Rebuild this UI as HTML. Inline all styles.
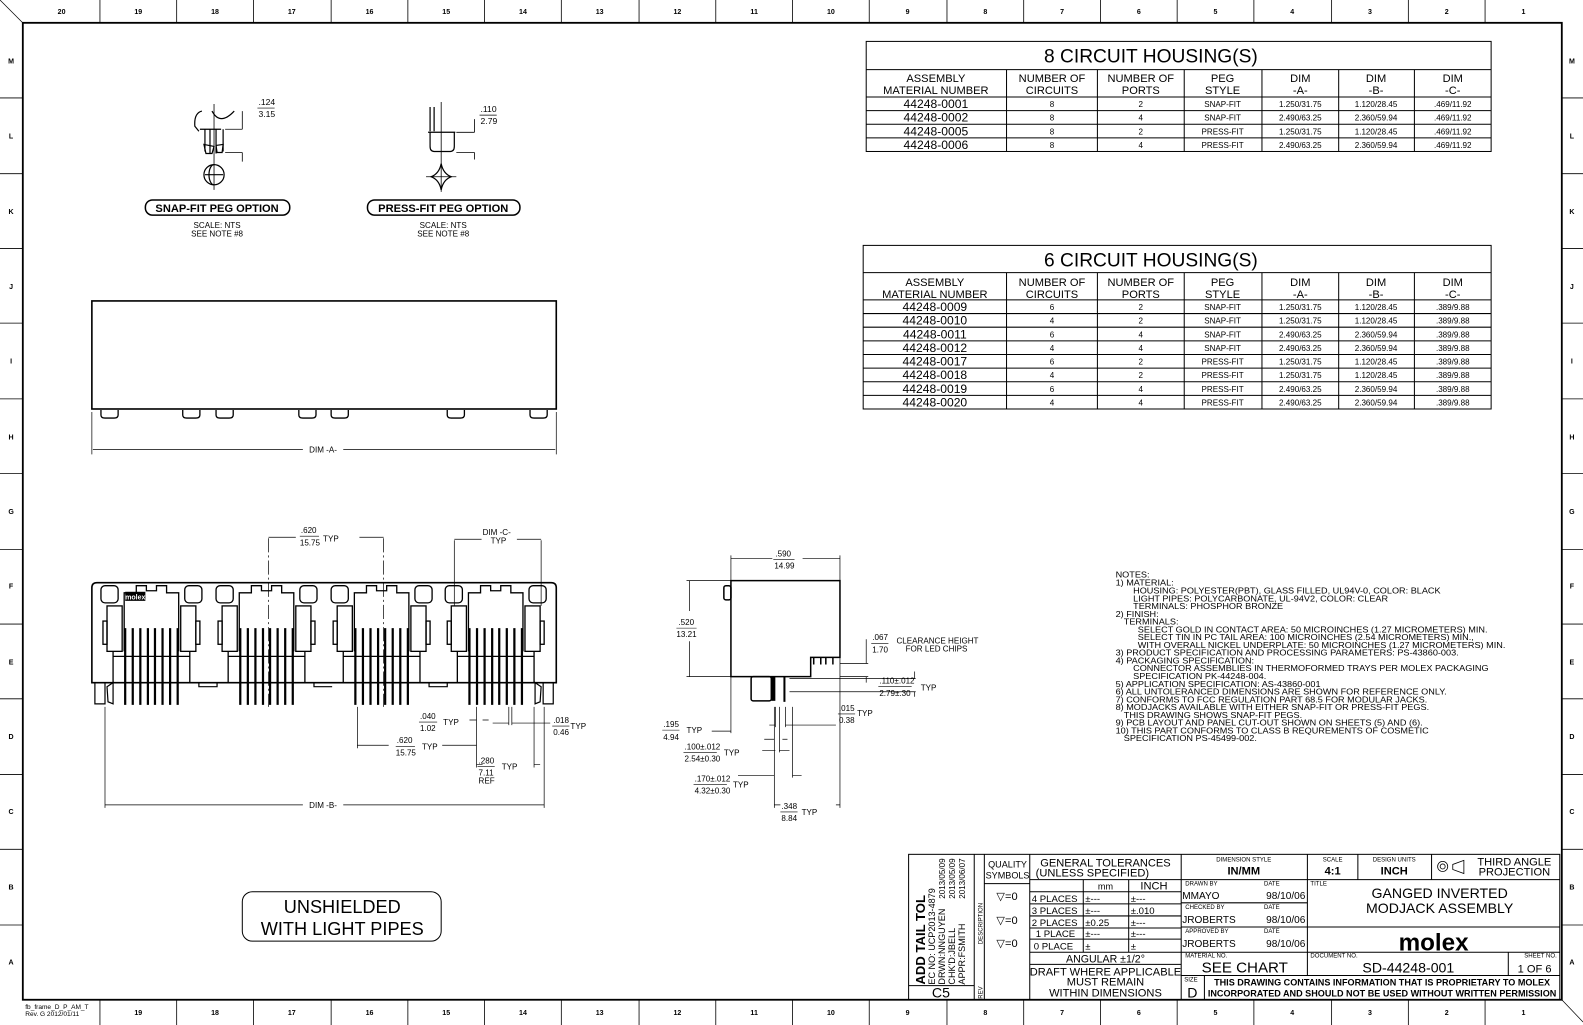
<!DOCTYPE html>
<html><head><meta charset="utf-8"><style>
html,body{margin:0;padding:0;background:#fff;}
svg{display:block}
text{font-family:"Liberation Sans",sans-serif;fill:#000}
</style></head><body>
<svg width="1583" height="1025" viewBox="0 0 1568 1015" preserveAspectRatio="none" xmlns="http://www.w3.org/2000/svg">
<defs>
<g id="jack" fill="none" stroke="#000" stroke-width="1.3">
  <rect x="-50" y="3" width="17" height="17" rx="4"/>
  <rect x="33" y="3" width="17" height="17" rx="4"/>
  <path d="M-27,68 V10 H-15 V3 H-5 V8 H5 V3 H15 V10 H27 V68"/>
  <rect x="-44" y="23" width="15" height="45"/>
  <rect x="29" y="23" width="15" height="45"/>
  <rect x="-48" y="38" width="4" height="23"/>
  <rect x="44" y="38" width="4" height="23"/>
  <path d="M-38,68 V99 M38,68 V99 M-38,73 H38"/>
  <g stroke-width="2.2">
    <path d="M-26,45 V121 M-18.5,45 V121 M-11,45 V121 M-3.5,45 V121 M3.5,45 V121 M11,45 V121 M18.5,45 V121 M26,45 V121"/>
  </g>
</g>
<g id="peg"><path d="M0,0 V5 Q0,8 4,8 H13 Q17,8 17,5 V0" fill="none" stroke="#000" stroke-width="1.3"/></g>
</defs>

<!-- Frame -->
<g stroke="#000" fill="none">
  <rect x="22.6" y="22.6" width="1524.4" height="967.4" stroke-width="1.8"/>
  <line x1="0" y1="0" x2="22.6" y2="22.6" stroke-width="0.7"/>
  <line x1="1547" y1="990" x2="1568" y2="1012" stroke-width="0.7"/>
</g>
<g stroke="#000" stroke-width="0.8">
  <line x1="99" y1="0" x2="99" y2="22"/><line x1="175" y1="0" x2="175" y2="22"/><line x1="251" y1="0" x2="251" y2="22"/><line x1="328" y1="0" x2="328" y2="22"/><line x1="404" y1="0" x2="404" y2="22"/><line x1="480" y1="0" x2="480" y2="22"/><line x1="556" y1="0" x2="556" y2="22"/><line x1="633" y1="0" x2="633" y2="22"/><line x1="709" y1="0" x2="709" y2="22"/><line x1="785" y1="0" x2="785" y2="22"/><line x1="861" y1="0" x2="861" y2="22"/><line x1="938" y1="0" x2="938" y2="22"/><line x1="1014" y1="0" x2="1014" y2="22"/><line x1="1090" y1="0" x2="1090" y2="22"/><line x1="1166" y1="0" x2="1166" y2="22"/><line x1="1242" y1="0" x2="1242" y2="22"/><line x1="1319" y1="0" x2="1319" y2="22"/><line x1="1395" y1="0" x2="1395" y2="22"/><line x1="1471" y1="0" x2="1471" y2="22"/>
  <line x1="99" y1="990" x2="99" y2="1015"/><line x1="175" y1="990" x2="175" y2="1015"/><line x1="251" y1="990" x2="251" y2="1015"/><line x1="328" y1="990" x2="328" y2="1015"/><line x1="404" y1="990" x2="404" y2="1015"/><line x1="480" y1="990" x2="480" y2="1015"/><line x1="556" y1="990" x2="556" y2="1015"/><line x1="633" y1="990" x2="633" y2="1015"/><line x1="709" y1="990" x2="709" y2="1015"/><line x1="785" y1="990" x2="785" y2="1015"/><line x1="861" y1="990" x2="861" y2="1015"/><line x1="938" y1="990" x2="938" y2="1015"/><line x1="1014" y1="990" x2="1014" y2="1015"/><line x1="1090" y1="990" x2="1090" y2="1015"/><line x1="1166" y1="990" x2="1166" y2="1015"/><line x1="1242" y1="990" x2="1242" y2="1015"/><line x1="1319" y1="990" x2="1319" y2="1015"/><line x1="1395" y1="990" x2="1395" y2="1015"/><line x1="1471" y1="990" x2="1471" y2="1015"/>
  <line x1="0" y1="97" x2="22" y2="97"/><line x1="0" y1="172" x2="22" y2="172"/><line x1="0" y1="246" x2="22" y2="246"/><line x1="0" y1="320" x2="22" y2="320"/><line x1="0" y1="395" x2="22" y2="395"/><line x1="0" y1="469" x2="22" y2="469"/><line x1="0" y1="544" x2="22" y2="544"/><line x1="0" y1="618" x2="22" y2="618"/><line x1="0" y1="692" x2="22" y2="692"/><line x1="0" y1="767" x2="22" y2="767"/><line x1="0" y1="841" x2="22" y2="841"/><line x1="0" y1="916" x2="22" y2="916"/>
  <line x1="1547" y1="97" x2="1568" y2="97"/><line x1="1547" y1="172" x2="1568" y2="172"/><line x1="1547" y1="246" x2="1568" y2="246"/><line x1="1547" y1="320" x2="1568" y2="320"/><line x1="1547" y1="395" x2="1568" y2="395"/><line x1="1547" y1="469" x2="1568" y2="469"/><line x1="1547" y1="544" x2="1568" y2="544"/><line x1="1547" y1="618" x2="1568" y2="618"/><line x1="1547" y1="692" x2="1568" y2="692"/><line x1="1547" y1="767" x2="1568" y2="767"/><line x1="1547" y1="841" x2="1568" y2="841"/><line x1="1547" y1="916" x2="1568" y2="916"/>
</g>
<g font-size="7" font-weight="bold" text-anchor="middle">
  <text x="61" y="14">20</text><text x="137" y="14">19</text><text x="213" y="14">18</text><text x="289" y="14">17</text><text x="366" y="14">16</text><text x="442" y="14">15</text><text x="518" y="14">14</text><text x="594" y="14">13</text><text x="671" y="14">12</text><text x="747" y="14">11</text><text x="823" y="14">10</text><text x="899" y="14">9</text><text x="976" y="14">8</text><text x="1052" y="14">7</text><text x="1128" y="14">6</text><text x="1204" y="14">5</text><text x="1280" y="14">4</text><text x="1357" y="14">3</text><text x="1433" y="14">2</text><text x="1509" y="14">1</text>
  <text x="137" y="1005">19</text><text x="213" y="1005">18</text><text x="289" y="1005">17</text><text x="366" y="1005">16</text><text x="442" y="1005">15</text><text x="518" y="1005">14</text><text x="594" y="1005">13</text><text x="671" y="1005">12</text><text x="747" y="1005">11</text><text x="823" y="1005">10</text><text x="899" y="1005">9</text><text x="976" y="1005">8</text><text x="1052" y="1005">7</text><text x="1128" y="1005">6</text><text x="1204" y="1005">5</text><text x="1280" y="1005">4</text><text x="1357" y="1005">3</text><text x="1433" y="1005">2</text><text x="1509" y="1005">1</text>
  <text x="11" y="63">M</text><text x="11" y="137">L</text><text x="11" y="212">K</text><text x="11" y="286">J</text><text x="11" y="360">I</text><text x="11" y="435">H</text><text x="11" y="509">G</text><text x="11" y="583">F</text><text x="11" y="658">E</text><text x="11" y="732">D</text><text x="11" y="806">C</text><text x="11" y="881">B</text><text x="11" y="955">A</text>
  <text x="1557" y="63">M</text><text x="1557" y="137">L</text><text x="1557" y="212">K</text><text x="1557" y="286">J</text><text x="1557" y="360">I</text><text x="1557" y="435">H</text><text x="1557" y="509">G</text><text x="1557" y="583">F</text><text x="1557" y="658">E</text><text x="1557" y="732">D</text><text x="1557" y="806">C</text><text x="1557" y="881">B</text><text x="1557" y="955">A</text>
</g>
<text x="25" y="999" font-size="6.5">fb_frame_D_P_AM_T</text>
<text x="25" y="1006" font-size="6.5">Rev. G 2012/01/11</text>

<!-- 8 circuit table -->
<g stroke="#000" stroke-width="1" fill="none">
  <rect x="858" y="41" width="619" height="109"/>
  <path d="M858,69 H1477 M858,96 H1477 M858,109.5 H1477 M858,123 H1477 M858,136.5 H1477"/>
  <path d="M997,69 V150 M1087,69 V150 M1173,69 V150 M1250,69 V150 M1326,69 V150 M1401,69 V150"/>
</g>
<g text-anchor="middle" font-size="10">
  <text x="1140" y="62" font-size="19" font-weight="300">8 CIRCUIT HOUSING(S)</text>
  <text x="927" y="81" font-size="11">ASSEMBLY</text><text x="927" y="93" font-size="11">MATERIAL NUMBER</text>
  <text x="1042" y="81" font-size="11">NUMBER OF</text><text x="1042" y="93" font-size="11">CIRCUITS</text>
  <text x="1130" y="81" font-size="11">NUMBER OF</text><text x="1130" y="93" font-size="11">PORTS</text>
  <text x="1211" y="81" font-size="11">PEG</text><text x="1211" y="93" font-size="11">STYLE</text>
  <text x="1288" y="81" font-size="11">DIM</text><text x="1288" y="93" font-size="11">-A-</text>
  <text x="1363" y="81" font-size="11">DIM</text><text x="1363" y="93" font-size="11">-B-</text>
  <text x="1439" y="81" font-size="11">DIM</text><text x="1439" y="93" font-size="11">-C-</text>
</g>
<g text-anchor="middle" font-size="8">
  <text x="927" y="107" font-size="12">44248-0001</text><text x="1042" y="106">8</text><text x="1130" y="106">2</text><text x="1211" y="106">SNAP-FIT</text><text x="1288" y="106">1.250/31.75</text><text x="1363" y="106">1.120/28.45</text><text x="1439" y="106">.469/11.92</text>
  <text x="927" y="120.5" font-size="12">44248-0002</text><text x="1042" y="119.5">8</text><text x="1130" y="119.5">4</text><text x="1211" y="119.5">SNAP-FIT</text><text x="1288" y="119.5">2.490/63.25</text><text x="1363" y="119.5">2.360/59.94</text><text x="1439" y="119.5">.469/11.92</text>
  <text x="927" y="134" font-size="12">44248-0005</text><text x="1042" y="133">8</text><text x="1130" y="133">2</text><text x="1211" y="133">PRESS-FIT</text><text x="1288" y="133">1.250/31.75</text><text x="1363" y="133">1.120/28.45</text><text x="1439" y="133">.469/11.92</text>
  <text x="927" y="147.5" font-size="12">44248-0006</text><text x="1042" y="146.5">8</text><text x="1130" y="146.5">4</text><text x="1211" y="146.5">PRESS-FIT</text><text x="1288" y="146.5">2.490/63.25</text><text x="1363" y="146.5">2.360/59.94</text><text x="1439" y="146.5">.469/11.92</text>
</g>

<!-- 6 circuit table -->
<g stroke="#000" stroke-width="1" fill="none">
  <rect x="855" y="243" width="622" height="162"/>
  <path d="M855,270 H1477 M855,297 H1477 M855,310.5 H1477 M855,324 H1477 M855,337.5 H1477 M855,351 H1477 M855,364.5 H1477 M855,378 H1477 M855,391.5 H1477"/>
  <path d="M997,270 V405 M1087,270 V405 M1173,270 V405 M1250,270 V405 M1326,270 V405 M1401,270 V405"/>
</g>
<g text-anchor="middle" font-size="11">
  <text x="1140" y="264" font-size="19">6 CIRCUIT HOUSING(S)</text>
  <text x="926" y="283">ASSEMBLY</text><text x="926" y="295">MATERIAL NUMBER</text>
  <text x="1042" y="283">NUMBER OF</text><text x="1042" y="295">CIRCUITS</text>
  <text x="1130" y="283">NUMBER OF</text><text x="1130" y="295">PORTS</text>
  <text x="1211" y="283">PEG</text><text x="1211" y="295">STYLE</text>
  <text x="1288" y="283">DIM</text><text x="1288" y="295">-A-</text>
  <text x="1363" y="283">DIM</text><text x="1363" y="295">-B-</text>
  <text x="1439" y="283">DIM</text><text x="1439" y="295">-C-</text>
</g>
<g text-anchor="middle" font-size="8">
  <text x="926" y="308" font-size="12">44248-0009</text><text x="1042" y="307">6</text><text x="1130" y="307">2</text><text x="1211" y="307">SNAP-FIT</text><text x="1288" y="307">1.250/31.75</text><text x="1363" y="307">1.120/28.45</text><text x="1439" y="307">.389/9.88</text>
  <text x="926" y="321.5" font-size="12">44248-0010</text><text x="1042" y="320.5">4</text><text x="1130" y="320.5">2</text><text x="1211" y="320.5">SNAP-FIT</text><text x="1288" y="320.5">1.250/31.75</text><text x="1363" y="320.5">1.120/28.45</text><text x="1439" y="320.5">.389/9.88</text>
  <text x="926" y="335" font-size="12">44248-0011</text><text x="1042" y="334">6</text><text x="1130" y="334">4</text><text x="1211" y="334">SNAP-FIT</text><text x="1288" y="334">2.490/63.25</text><text x="1363" y="334">2.360/59.94</text><text x="1439" y="334">.389/9.88</text>
  <text x="926" y="348.5" font-size="12">44248-0012</text><text x="1042" y="347.5">4</text><text x="1130" y="347.5">4</text><text x="1211" y="347.5">SNAP-FIT</text><text x="1288" y="347.5">2.490/63.25</text><text x="1363" y="347.5">2.360/59.94</text><text x="1439" y="347.5">.389/9.88</text>
  <text x="926" y="362" font-size="12">44248-0017</text><text x="1042" y="361">6</text><text x="1130" y="361">2</text><text x="1211" y="361">PRESS-FIT</text><text x="1288" y="361">1.250/31.75</text><text x="1363" y="361">1.120/28.45</text><text x="1439" y="361">.389/9.88</text>
  <text x="926" y="375.5" font-size="12">44248-0018</text><text x="1042" y="374.5">4</text><text x="1130" y="374.5">2</text><text x="1211" y="374.5">PRESS-FIT</text><text x="1288" y="374.5">1.250/31.75</text><text x="1363" y="374.5">1.120/28.45</text><text x="1439" y="374.5">.389/9.88</text>
  <text x="926" y="389" font-size="12">44248-0019</text><text x="1042" y="388">6</text><text x="1130" y="388">4</text><text x="1211" y="388">PRESS-FIT</text><text x="1288" y="388">2.490/63.25</text><text x="1363" y="388">2.360/59.94</text><text x="1439" y="388">.389/9.88</text>
  <text x="926" y="402.5" font-size="12">44248-0020</text><text x="1042" y="401.5">4</text><text x="1130" y="401.5">4</text><text x="1211" y="401.5">PRESS-FIT</text><text x="1288" y="401.5">2.490/63.25</text><text x="1363" y="401.5">2.360/59.94</text><text x="1439" y="401.5">.389/9.88</text>
</g>

<!-- Peg options -->
<g fill="none" stroke="#000" stroke-width="1.2">
  <path d="M200,110 Q192,112 193,125 L197,130"/>
  <path d="M210,110 Q218,125 232,110"/>
  <line x1="212" y1="103" x2="212" y2="188" stroke-width="0.8"/>
  <path d="M198,128 H219 M203,128 V150 M208,128 V152 M214,128 V152 M221,128 V150"/>
  <path d="M202,143 L212,145 L210,152 L204,152 Z M214,144 L221,143 L220,151 L215,151 Z"/>
  <path d="M223,128 H240 M223,151 H240 M240,110 V128 M240,151 V160" stroke-width="0.8"/>
  <circle cx="212" cy="173" r="10"/><path d="M203,173 H221 M212,163 A5,10 0 0,0 212,183"/>
  <rect x="144" y="198" width="143" height="15" rx="7" stroke-width="1.5"/>
  <path d="M437,101 V190" stroke-width="0.8"/>
  <path d="M426,106 V130 M430,106 V130 M424,131 H451 M426,131 V145 Q426,150 430,150 H446 Q450,150 450,145 V131"/>
  <path d="M452,131 H470 M452,151 H470 M470,118 V131 M470,151 V158" stroke-width="0.8"/>
  <path d="M422,175 H452" stroke-width="0.8"/>
  <path d="M437,162 Q439,172 447,175 Q439,178 437,188 Q435,178 427,175 Q435,172 437,162 Z"/>
  <rect x="364" y="198" width="151" height="15" rx="7" stroke-width="1.5"/>
</g>
<g font-size="8.5">
  <text x="256" y="104">.124</text><line x1="255" y1="107" x2="272" y2="107" stroke="#000" stroke-width="0.7"/><text x="256" y="116">3.15</text>
  <text x="476" y="111">.110</text><line x1="475" y1="114" x2="492" y2="114" stroke="#000" stroke-width="0.7"/><text x="476" y="123">2.79</text>
</g>
<text x="215" y="210" font-size="11" font-weight="bold" text-anchor="middle">SNAP-FIT PEG OPTION</text>
<text x="439" y="210" font-size="11" font-weight="bold" text-anchor="middle">PRESS-FIT PEG OPTION</text>
<g font-size="8" text-anchor="middle">
  <text x="215" y="226">SCALE: NTS</text><text x="215" y="234">SEE NOTE #8</text>
  <text x="439" y="226">SCALE: NTS</text><text x="439" y="234">SEE NOTE #8</text>
</g>

<!-- Top view -->
<rect x="91" y="298" width="460" height="107" fill="none" stroke="#000" stroke-width="1.6"/>
<use href="#peg" x="100" y="406"/><use href="#peg" x="181" y="406"/><use href="#peg" x="214" y="406"/><use href="#peg" x="296" y="406"/><use href="#peg" x="328" y="406"/><use href="#peg" x="443" y="406"/><use href="#peg" x="525" y="406"/>
<g stroke="#000" stroke-width="0.7"><path d="M91,408 V450 M551,408 V450 M92,445 H300 M340,445 H550"/></g>
<text x="320" y="448" font-size="8" text-anchor="middle">DIM -A-</text>

<!-- Bottom front view -->
<path d="M91,676 V582 Q91,577 96,577 H546 Q551,577 551,582 V676 Z" fill="none" stroke="#000" stroke-width="1.6"/>
<use href="#jack" x="150" y="577"/><use href="#jack" x="264" y="577"/><use href="#jack" x="378" y="577"/><use href="#jack" x="491" y="577"/>
<rect x="124" y="586" width="20" height="9" fill="#000"/>
<text x="134" y="593.5" font-size="7" font-weight="bold" text-anchor="middle" style="fill:#fff">molex</text>
<g fill="none" stroke="#000" stroke-width="1.2">
  <path d="M94,676 V697 H104 V676 M106,680 L112,676 V697 L107,695 Z"/>
  <path d="M548,676 V697 H538 V676 M536,680 L530,676 V697 L535,695 Z"/>
  <path d="M197,676 V680 H215 V676 M311,676 V680 H329 M425,676 V680 H443 V676"/>
</g>
<g stroke="#000" stroke-width="0.7" fill="none">
  <path d="M266,533 V700 M380,533 V700" stroke-dasharray="14,3,2,3"/>
  <path d="M266,532 H293 M356,532 H380"/>
  <path d="M450,535 V600 M536,535 V600 M450,534 H477 M512,534 H536"/>
  <path d="M104,700 V800 M539,700 V800 M104,797 H300 M340,797 H539"/>
  <path d="M354,700 V741 M472,700 V760 M354,738 H385 M438,738 H472"/>
  <path d="M472,713 H465 M478,713 H484"/>
  <path d="M529,700 V760 M478,757 H472 M529,757 H535"/>
  <path d="M504,700 V718 M507,700 V718 M488,716 H504 M507,716 H545"/>
</g>
<g font-size="8">
  <text x="298" y="528">.620</text><line x1="297" y1="531" x2="316" y2="531" stroke="#000" stroke-width="0.6"/><text x="297" y="540">15.75</text><text x="320" y="536">TYP</text>
  <text x="478" y="530" text-anchor="start">DIM -C-</text><text x="486" y="538">TYP</text>
  <text x="416" y="712">.040</text><line x1="415" y1="715" x2="433" y2="715" stroke="#000" stroke-width="0.6"/><text x="416" y="724">1.02</text><text x="439" y="718">TYP</text>
  <text x="548" y="716">.018</text><line x1="547" y1="719" x2="564" y2="719" stroke="#000" stroke-width="0.6"/><text x="548" y="728">0.46</text><text x="565" y="722">TYP</text>
  <text x="393" y="736">.620</text><line x1="392" y1="739" x2="411" y2="739" stroke="#000" stroke-width="0.6"/><text x="392" y="748">15.75</text><text x="418" y="742">TYP</text>
  <text x="474" y="756">.280</text><line x1="473" y1="759" x2="490" y2="759" stroke="#000" stroke-width="0.6"/><text x="474" y="768">7.11</text><text x="474" y="776">REF</text><text x="497" y="762">TYP</text>
  <text x="320" y="800" text-anchor="middle">DIM -B-</text>
</g>

<!-- Side view -->
<g fill="none" stroke="#000" stroke-width="1.5">
  <path d="M724,575 H832 V651 H803 V670 H724 Z"/>
  <rect x="717" y="580" width="7" height="14" rx="2"/>
  <rect x="744" y="670" width="20" height="24" rx="2"/>
  <path d="M806,651 V658 M813,651 V658 M818,651 V658 M825,651 V658"/>
</g>
<rect x="764" y="670" width="4" height="24" fill="#000"/>
<rect x="776" y="670" width="2" height="25" fill="#000"/>
<g stroke="#000" stroke-width="0.7" fill="none">
  <path d="M724,575 V550 M832,575 V550 M724,553 H765 M795,553 H832"/>
  <path d="M724,575 H680 M724,670 H680 M683,575 V605 M683,635 V670"/>
  <path d="M832,657 H860 M832,670 H860 M858,633 V657 M858,670 V676"/>
  <path d="M782,672 H907 M782,685 H907 M906,665 V672 M906,685 V690" />
  <path d="M768,700 V720 M778,700 V720 M762,718 H768 M778,718 H828"/>
  <path d="M724,670 V726 M705,724 H724"/>
  <path d="M767,700 V800 M832,600 V800 M767,797 H773 M828,797 H832"/>
  <path d="M772,700 V745 M755,743 H768 M772,743 H782"/>
  <path d="M785,700 V770 M731,768 H767 M785,768 H794"/>
  <path d="M767,732 H757 M775,732 H780"/>
</g>
<g font-size="8">
  <text x="768" y="551">.590</text><line x1="766" y1="554" x2="787" y2="554" stroke="#000" stroke-width="0.6"/><text x="767" y="563">14.99</text>
  <text x="672" y="619">.520</text><line x1="670" y1="622" x2="690" y2="622" stroke="#000" stroke-width="0.6"/><text x="670" y="631">13.21</text>
  <text x="864" y="634">.067</text><line x1="863" y1="637" x2="880" y2="637" stroke="#000" stroke-width="0.6"/><text x="864" y="646">1.70</text>
  <text x="888" y="637">CLEARANCE HEIGHT</text><text x="897" y="645">FOR LED CHIPS</text>
  <text x="871" y="677">.110±.012</text><line x1="870" y1="680" x2="903" y2="680" stroke="#000" stroke-width="0.6"/><text x="871" y="689">2.79±.30</text><text x="912" y="684">TYP</text>
  <text x="831" y="704">.015</text><line x1="830" y1="707" x2="847" y2="707" stroke="#000" stroke-width="0.6"/><text x="831" y="716">0.38</text><text x="849" y="709">TYP</text>
  <text x="657" y="720">.195</text><line x1="656" y1="723" x2="673" y2="723" stroke="#000" stroke-width="0.6"/><text x="657" y="733">4.94</text><text x="680" y="726">TYP</text>
  <text x="678" y="742">.100±.012</text><line x1="677" y1="745" x2="710" y2="745" stroke="#000" stroke-width="0.6"/><text x="678" y="754">2.54±0.30</text><text x="717" y="748">TYP</text>
  <text x="688" y="774">.170±.012</text><line x1="687" y1="777" x2="720" y2="777" stroke="#000" stroke-width="0.6"/><text x="688" y="786">4.32±0.30</text><text x="726" y="780">TYP</text>
  <text x="774" y="801">.348</text><line x1="773" y1="804" x2="790" y2="804" stroke="#000" stroke-width="0.6"/><text x="774" y="813">8.84</text><text x="794" y="807">TYP</text>
</g>

<!-- Notes -->
<g font-size="7.8" transform="translate(1105,0) scale(1.16,1)">
  <text x="0" y="572">NOTES:</text>
  <text x="0" y="580">1) MATERIAL:</text>
  <text x="15" y="587.7">HOUSING: POLYESTER(PBT), GLASS FILLED, UL94V-0, COLOR: BLACK</text>
  <text x="15" y="595.4">LIGHT PIPES: POLYCARBONATE, UL-94V2, COLOR: CLEAR</text>
  <text x="15" y="603.1">TERMINALS: PHOSPHOR BRONZE</text>
  <text x="0" y="610.8">2) FINISH:</text>
  <text x="7" y="618.5">TERMINALS:</text>
  <text x="19" y="626.2">SELECT GOLD IN CONTACT AREA: 50 MICROINCHES (1.27 MICROMETERS) MIN.</text>
  <text x="19" y="633.9">SELECT TIN IN PC TAIL AREA: 100 MICROINCHES (2.54 MICROMETERS) MIN.,</text>
  <text x="19" y="641.6">WITH OVERALL NICKEL UNDERPLATE: 50 MICROINCHES (1.27 MICROMETERS) MIN.</text>
  <text x="0" y="649.3">3) PRODUCT SPECIFICATION AND PROCESSING PARAMETERS: PS-43860-003.</text>
  <text x="0" y="657">4) PACKAGING SPECIFICATION:</text>
  <text x="15" y="664.7">CONNECTOR ASSEMBLIES IN THERMOFORMED TRAYS PER MOLEX PACKAGING</text>
  <text x="15" y="672.4">SPECIFICATION PK-44248-004.</text>
  <text x="0" y="680.1">5) APPLICATION SPECIFICATION: AS-43860-001</text>
  <text x="0" y="687.8">6) ALL UNTOLERANCED DIMENSIONS ARE SHOWN FOR REFERENCE ONLY.</text>
  <text x="0" y="695.5">7) CONFORMS TO FCC REGULATION PART 68.5 FOR MODULAR JACKS.</text>
  <text x="0" y="703.2">8) MODJACKS AVAILABLE WITH EITHER SNAP-FIT OR PRESS-FIT PEGS.</text>
  <text x="7" y="710.9">THIS DRAWING SHOWS SNAP-FIT PEGS.</text>
  <text x="0" y="718.6">9) PCB LAYOUT AND PANEL CUT-OUT SHOWN ON SHEETS (5) AND (6).</text>
  <text x="0" y="726.3">10) THIS PART CONFORMS TO CLASS B REQUREMENTS OF COSMETIC</text>
  <text x="7" y="734">SPECIFICATION PS-45499-002.</text>
</g>

<!-- Unshielded -->
<rect x="240" y="883" width="197" height="49" rx="10" fill="none" stroke="#000" stroke-width="1"/>
<text x="339" y="904" font-size="18" text-anchor="middle">UNSHIELDED</text>
<text x="339" y="926" font-size="18" text-anchor="middle">WITH LIGHT PIPES</text>

<!-- Title block -->
<g stroke="#000" fill="none" stroke-width="1">
  <rect x="900" y="846" width="645" height="144"/>
  <path d="M965,846 V990 M975,846 V990 M1020,846 V990 M1170,846 V990 M1295,846 V966 M1345,846 V871 M1418,846 V871 M1494,943 V966 M1193,966 V990"/>
  <path d="M900,976 H965 M975,875 H1020"/>
  <path d="M1020,871 H1170 M1020,883 H1170 M1020,895 H1170 M1020,907 H1170 M1020,919 H1170 M1020,930 H1170 M1020,943 H1170 M1020,955 H1170 M1073,871 V943 M1118,871 V943"/>
  <path d="M1170,871 H1545 M1170,894 H1295 M1170,918 H1545 M1170,943 H1545 M1170,966 H1545"/>
</g>
<g>
  <text transform="translate(916,975) rotate(-90)" font-size="13" font-weight="bold">ADD TAIL TOL</text>
  <text transform="translate(926,975) rotate(-90)" font-size="9">EC NO: UCP2013-4879</text>
  <text transform="translate(936,975) rotate(-90)" font-size="9">DRWN:NNGUYEN</text>
  <text transform="translate(946,975) rotate(-90)" font-size="9">CHK'D:JBELL</text>
  <text transform="translate(956,975) rotate(-90)" font-size="9">APPR:FSMITH</text>
  <text transform="translate(936,890) rotate(-90)" font-size="8">2013/05/09</text>
  <text transform="translate(946,890) rotate(-90)" font-size="8">2013/05/09</text>
  <text transform="translate(956,890) rotate(-90)" font-size="8">2013/06/07</text>
  <text transform="translate(973,935) rotate(-90)" font-size="6">DESCRIPTION</text>
  <text transform="translate(973,989) rotate(-90)" font-size="6">REV</text>
  <text x="932" y="988" font-size="14" text-anchor="middle">C5</text>
  <text x="998" y="859" font-size="9" text-anchor="middle">QUALITY</text>
  <text x="998" y="870" font-size="9" text-anchor="middle">SYMBOLS</text>
  <text x="987" y="891" font-size="11">▽=0</text><text x="987" y="915" font-size="11">▽=0</text><text x="987" y="938" font-size="11">▽=0</text>
  <text x="1095" y="858" font-size="11" text-anchor="middle">GENERAL TOLERANCES</text>
  <text x="1082" y="868" font-size="11" text-anchor="middle">(UNLESS SPECIFIED)</text>
  <text x="1095" y="881" font-size="9" text-anchor="middle">mm</text><text x="1143" y="881" font-size="11" text-anchor="middle">INCH</text>
  <g font-size="9.5">
    <text x="1022" y="893">4 PLACES</text><text x="1075" y="893">±---</text><text x="1120" y="893">±---</text>
    <text x="1022" y="905">3 PLACES</text><text x="1075" y="905">±---</text><text x="1120" y="905">±.010</text>
    <text x="1022" y="917">2 PLACES</text><text x="1075" y="917">±0.25</text><text x="1120" y="917">±---</text>
    <text x="1026" y="928">1 PLACE</text><text x="1075" y="928">±---</text><text x="1120" y="928">±---</text>
    <text x="1024" y="940">0 PLACE</text><text x="1075" y="940">±</text><text x="1120" y="940">±</text>
  </g>
  <text x="1095" y="953" font-size="10.5" text-anchor="middle">ANGULAR ±1/2°</text>
  <text x="1095" y="966" font-size="11" text-anchor="middle">DRAFT WHERE APPLICABLE</text>
  <text x="1095" y="976" font-size="11" text-anchor="middle">MUST REMAIN</text>
  <text x="1095" y="987" font-size="11" text-anchor="middle">WITHIN DIMENSIONS</text>
  <text x="1232" y="853" font-size="6" text-anchor="middle">DIMENSION STYLE</text>
  <text x="1232" y="866" font-size="11" font-weight="bold" text-anchor="middle">IN/MM</text>
  <text x="1320" y="853" font-size="6" text-anchor="middle">SCALE</text>
  <text x="1320" y="866" font-size="11" font-weight="bold" text-anchor="middle">4:1</text>
  <text x="1381" y="853" font-size="6" text-anchor="middle">DESIGN UNITS</text>
  <text x="1381" y="866" font-size="11" font-weight="bold" text-anchor="middle">INCH</text>
  <circle cx="1429" cy="858" r="5" fill="none" stroke="#000" stroke-width="0.8"/><circle cx="1429" cy="858" r="2.5" fill="none" stroke="#000" stroke-width="0.8"/>
  <path d="M1450,852 L1439,856 V861 L1450,865 Z" fill="none" stroke="#000" stroke-width="0.8"/>
  <text x="1500" y="857" font-size="11" text-anchor="middle">THIRD ANGLE</text>
  <text x="1500" y="867" font-size="11" text-anchor="middle">PROJECTION</text>
  <g font-size="6"><text x="1174" y="877">DRAWN BY</text><text x="1252" y="877">DATE</text><text x="1174" y="900">CHECKED BY</text><text x="1252" y="900">DATE</text><text x="1174" y="924">APPROVED BY</text><text x="1252" y="924">DATE</text><text x="1174" y="948">MATERIAL NO.</text><text x="1298" y="877">TITLE</text><text x="1298" y="948">DOCUMENT NO.</text><text x="1542" y="948" text-anchor="end">SHEET NO.</text><text x="1173" y="972">SIZE</text></g>
  <g font-size="10"><text x="1171" y="890">MMAYO</text><text x="1293" y="890" text-anchor="end">98/10/06</text><text x="1171" y="914">JROBERTS</text><text x="1293" y="914" text-anchor="end">98/10/06</text><text x="1171" y="938">JROBERTS</text><text x="1293" y="938" text-anchor="end">98/10/06</text></g>
  <text x="1233" y="963" font-size="15" text-anchor="middle">SEE CHART</text>
  <text x="1426" y="889" font-size="14" text-anchor="middle">GANGED INVERTED</text>
  <text x="1426" y="904" font-size="14" text-anchor="middle">MODJACK ASSEMBLY</text>
  <text x="1420" y="941" font-size="24" font-weight="bold" text-anchor="middle">molex</text>
  <text x="1395" y="963" font-size="14" text-anchor="middle">SD-44248-001</text>
  <text x="1520" y="963" font-size="11" text-anchor="middle">1 OF 6</text>
  <text x="1181" y="988" font-size="14" text-anchor="middle">D</text>
  <text x="1369" y="976" font-size="9" font-weight="bold" text-anchor="middle">THIS DRAWING CONTAINS INFORMATION THAT IS PROPRIETARY TO MOLEX</text>
  <text x="1369" y="987" font-size="9" font-weight="bold" text-anchor="middle">INCORPORATED AND SHOULD NOT BE USED WITHOUT WRITTEN PERMISSION</text>
</g>
</svg>
</body></html>
